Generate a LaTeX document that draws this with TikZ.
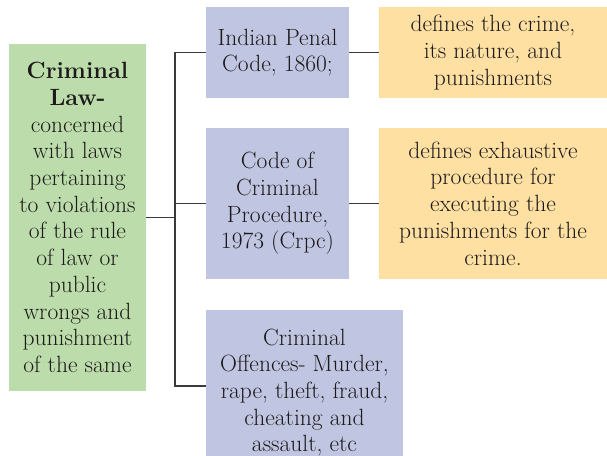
\documentclass[tikz,border=0pt]{standalone}
\usepackage{tikz}

\definecolor{lawgreen}{HTML}{BCDDAB}
\definecolor{actblue}{HTML}{C0C6E2}
\definecolor{defyellow}{HTML}{FEE0A3}
\definecolor{inkgray}{HTML}{1E1A1B}
\definecolor{linegray}{HTML}{3A3A3A}

\begin{document}
\begin{tikzpicture}[x=1pt, y=-1pt,
  every node/.style={inner sep=0pt, outer sep=0pt, align=center, text=inkgray,
    font=\fontsize{23.5}{26.7}\selectfont},
  link/.style={draw=linegray, line width=1.1pt}]
\useasboundingbox (0,0) rectangle (607,455);
\clip (0,0) rectangle (607,455);

\node[fill=lawgreen, minimum width=137pt, minimum height=347pt] (law) at (77.5,217.5)
  {\textbf{Criminal}\\ \textbf{Law-}\\ concerned\\ with laws\\ pertaining\\ to violations\\
   of the rule\\ of law or\\ public\\ wrongs and\\ punishment\\ of the same};

\node[fill=actblue, minimum width=143pt, minimum height=91pt] (ipc) at (277.5,52.5)
  {Indian Penal\\ Code, 1860;};
\node[fill=defyellow, minimum width=228pt, minimum height=91pt] (ipcdef) at (493,52.5)
  {defines the crime,\\ its nature, and\\ punishments};

\node[fill=actblue, minimum width=143pt, minimum height=151pt] (crpc) at (277.5,203.5)
  {Code of\\ Criminal\\ Procedure,\\ 1973 (Crpc)};
\node[fill=defyellow, minimum width=228pt, minimum height=151pt] (crpcdef) at (493,203.5)
  {defines exhaustive\\ procedure for\\ executing the\\ punishments for the\\ crime.};

\node[fill=actblue, minimum width=197pt, minimum height=165pt] (off) at (304.5,392.5)
  {Criminal\\ Offences- Murder,\\ rape, theft, fraud,\\ cheating and\\ assault, etc};

\coordinate (bus) at (175,0);
\draw[link] (law.east) -- (law.east -| bus);
\draw[link] (ipc.west) -- (ipc.west -| bus) -- ([yshift=6.5pt]off.west -| bus) -- ([yshift=6.5pt]off.west);
\draw[link] (crpc.west) -- (crpc.west -| bus);
\draw[link] (ipc.east) -- (ipcdef.west);
\draw[link] (crpc.east) -- (crpcdef.west);
\end{tikzpicture}
\end{document}
